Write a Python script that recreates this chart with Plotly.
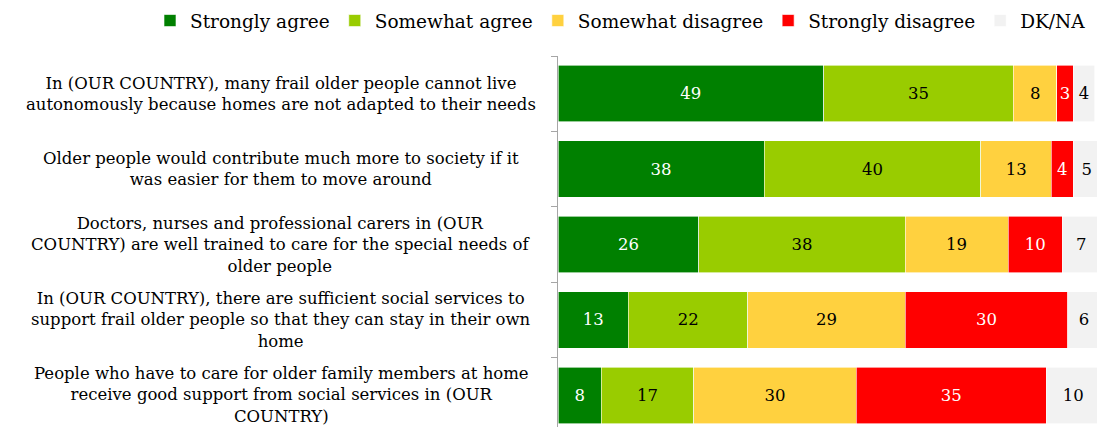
import plotly.graph_objects as go

# Survey statements (top to bottom) and answer shares in percent
statements = [
    "In (OUR COUNTRY), many frail older people cannot live<br>autonomously because homes are not adapted to their needs",
    "Older people would contribute much more to society if it<br>was easier for them to move around",
    "Doctors, nurses and professional carers in (OUR<br>COUNTRY) are well trained to care for the special needs of<br>older people",
    "In (OUR COUNTRY), there are sufficient social services to<br>support frail older people so that they can stay in their own<br>home",
    "People who have to care for older family members at home<br>receive good support from social services in (OUR<br>COUNTRY)",
]
categories = ["Q1", "Q2", "Q3", "Q4", "Q5"]

strongly_agree = [49, 38, 26, 13, 8]
somewhat_agree = [35, 40, 38, 22, 17]
somewhat_disagree = [8, 13, 19, 29, 30]
strongly_disagree = [3, 4, 10, 30, 35]
dk_na = [4, 5, 7, 6, 10]

series_names = ["Strongly agree", "Somewhat agree", "Somewhat disagree",
                "Strongly disagree", "DK/NA"]
series_values = [strongly_agree, somewhat_agree, somewhat_disagree,
                 strongly_disagree, dk_na]
series_colors = ["#008000", "#99cc00", "#ffd13f", "#ff0000", "#f2f2f2"]
label_colors = ["white", "black", "black", "white", "black"]

FONT = "Georgia, 'DejaVu Serif', serif"
FS = 16.5
LEGEND_FS = 18.5
W, H = 1097, 427
LEFT = 558
TOP = 56
PLOT_H = H - TOP

fig = go.Figure()
for name, vals, col, tcol in zip(series_names, series_values, series_colors, label_colors):
    fig.add_trace(go.Bar(
        y=categories, x=vals, name=name, orientation="h",
        marker=dict(color=col, line=dict(color="white", width=0.6)),
        text=[str(v) for v in vals], textposition="inside",
        insidetextanchor="middle", textangle=0, constraintext="none",
        textfont=dict(family=FONT, size=FS, color=tcol),
        hoverinfo="x+name",
    ))

# Statement labels, centred blocks to the left of the axis
label_center_px = 281
for cat, txt in zip(categories, statements):
    fig.add_annotation(
        x=(label_center_px - LEFT) / (W - LEFT), xref="paper",
        y=cat, yref="y", text=txt, showarrow=False,
        xanchor="center", yanchor="middle", align="center",
        font=dict(family=FONT, size=FS, color="black"),
    )

legend_left_px = 150
legend_top_px = 2
fig.update_layout(
    width=W, height=H,
    barmode="stack", bargap=0.25,
    margin=dict(l=LEFT, r=0, t=TOP, b=0),
    paper_bgcolor="white", plot_bgcolor="white",
    font=dict(family=FONT, size=FS, color="black"),
    legend=dict(orientation="h",
                x=(legend_left_px - LEFT) / (W - LEFT), xanchor="left",
                y=1 + (TOP - legend_top_px) / PLOT_H, yanchor="top",
                font=dict(family=FONT, size=LEGEND_FS), traceorder="normal",
                itemwidth=30, bgcolor="rgba(0,0,0,0)"),
    showlegend=True,
)
fig.update_xaxes(range=[0, 99.4], showgrid=False, zeroline=False,
                 showticklabels=False, showline=False, fixedrange=True)
fig.update_yaxes(categoryorder="array", categoryarray=categories,
                 range=[4.42, -0.5], showticklabels=False, showgrid=False,
                 zeroline=False, showline=True, linecolor="#a6a6a6", linewidth=1,
                 ticks="outside", tickson="boundaries", ticklen=6,
                 tickcolor="#a6a6a6", fixedrange=True)

fig.write_html("out.html")
